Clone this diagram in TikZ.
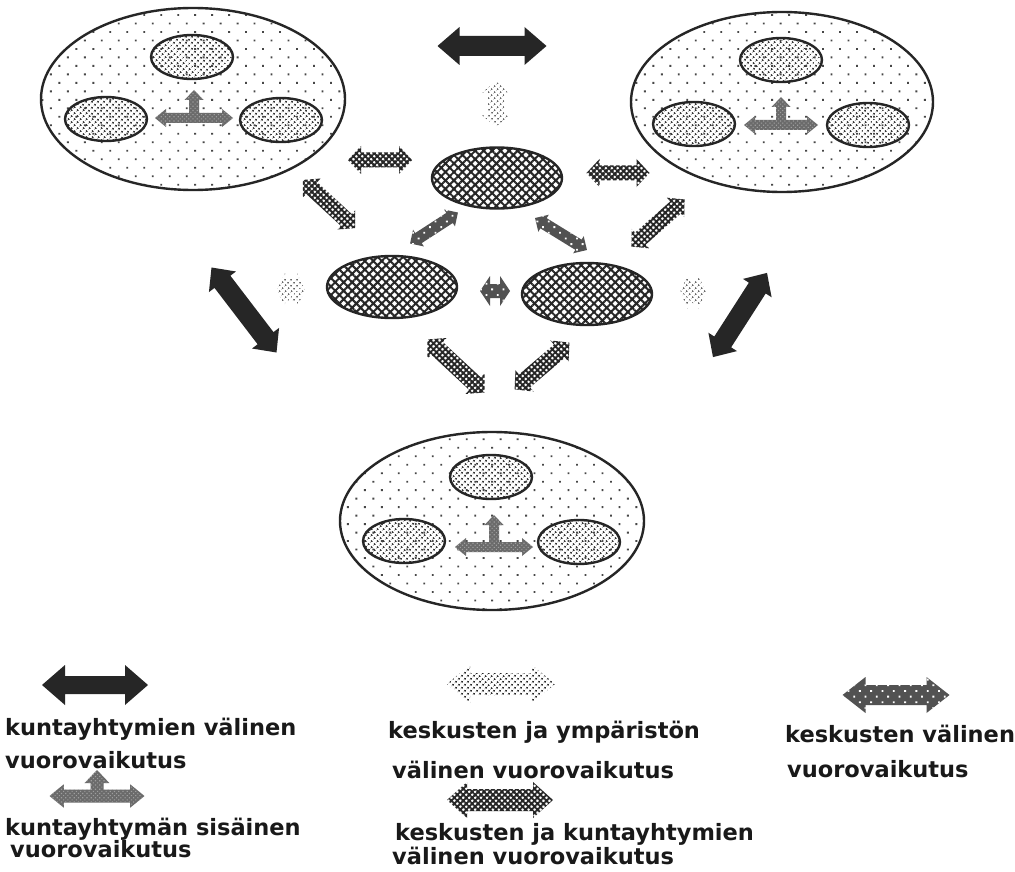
\documentclass[tikz,border=0pt]{standalone}
\usepackage{fontspec}
\setmainfont{DejaVu Sans}
\usetikzlibrary{shapes.geometric,patterns.meta}
\tikzset{
  outerfill/.style={ellipse, draw=black!85, line width=2.4pt, inner sep=0pt,
    pattern={Dots[radius=1.3pt,distance=12pt,angle=45]}, pattern color=black!72},
  innerfill/.style={ellipse, draw=black!85, line width=2.4pt, inner sep=0pt,
    minimum width=82pt, minimum height=44pt,
    pattern={Dots[radius=1.25pt,distance=4pt,angle=45]}, pattern color=black!80},
  centerfill/.style={ellipse, draw=black!85, line width=2.4pt, inner sep=0pt,
    minimum width=130pt, minimum height=61pt,
    pattern={Hatch[angle=45,distance=6pt,line width=2pt]}, pattern color=black!85},
  blk/.style={fill=black!85},
  dotarr/.style={pattern={Dots[radius=1.2pt,distance=4pt,angle=45]}, pattern color=black!85},
  lightdot/.style={pattern={Dots[radius=1.1pt,distance=4pt,angle=45]}, pattern color=black!60},
  hatcharr/.style={pattern={Hatch[angle=45,distance=4.2pt,line width=1.9pt]}, pattern color=black!85},
  midarr/.style={preaction={fill=black!68}, pattern={Dots[radius=1.3pt,distance=8pt,angle=45]}, pattern color=white},
  tarr/.style={preaction={fill=black!58}, pattern={Dots[radius=0.8pt,distance=3pt,angle=45]}, pattern color=black!38},
  lbl/.style={font=\fontsize{22.5}{26}\selectfont\bfseries, anchor=base west, inner sep=0pt, text=black!90},
  pics/dbl/.style n args={5}{code={
    \path[#5] ({-#1/2},0) -- ({-#1/2+#4},{-#3}) -- ({-#1/2+#4},{-#2}) -- ({#1/2-#4},{-#2})
      -- ({#1/2-#4},{-#3}) -- ({#1/2},0) -- ({#1/2-#4},{#3}) -- ({#1/2-#4},{#2})
      -- ({-#1/2+#4},{#2}) -- ({-#1/2+#4},{#3}) -- cycle;
  }},
  pics/tee/.style n args={3}{code={
    \path[tarr] ({-#1/2},0) -- ({-#1/2+11*#3},{-9*#3}) -- ({-#1/2+11*#3},{-5*#3})
      -- ({-5*#3},{-5*#3}) -- ({-5*#3},{-#2+10*#3}) -- ({-9.5*#3},{-#2+10*#3})
      -- (0,{-#2}) -- ({9.5*#3},{-#2+10*#3}) -- ({5*#3},{-#2+10*#3}) -- ({5*#3},{-5*#3})
      -- ({#1/2-11*#3},{-5*#3}) -- ({#1/2-11*#3},{-9*#3}) -- ({#1/2},0)
      -- ({#1/2-11*#3},{9*#3}) -- ({#1/2-11*#3},{5*#3}) -- ({-#1/2+11*#3},{5*#3})
      -- ({-#1/2+11*#3},{9*#3}) -- cycle;
  }}
}
\begin{document}
\begin{tikzpicture}[x=1pt,y=-1pt]
\useasboundingbox[fill=white] (0,0) rectangle (1015,872);

% big ellipses (kuntayhtymät)
\node[outerfill, minimum width=304pt, minimum height=182pt] (TL) at (193,99) {};
\node[outerfill, minimum width=302pt, minimum height=180pt] (TR) at (782,102) {};
\node[outerfill, minimum width=304pt, minimum height=178pt] (BB) at (492,521) {};

% inner ellipses
\node[innerfill] (TLa) at (192,57) {};
\node[innerfill] (TLb) at (106,119) {};
\node[innerfill] (TLc) at (281,120) {};
\node[innerfill] (TRa) at (781,60) {};
\node[innerfill] (TRb) at (694,124) {};
\node[innerfill] (TRc) at (868,125) {};
\node[innerfill] (BBa) at (491,477) {};
\node[innerfill] (BBb) at (404,541) {};
\node[innerfill] (BBc) at (579,542) {};

% T arrows inside
\pic (tTL) at (194,118) {tee={78}{28}{1}};
\pic (tTR) at (781,125) {tee={74}{28}{1}};
\pic (tBB) at (494,547) {tee={78}{32}{1}};

% centre ellipses
\node[centerfill] (C1) at (497,178) {};
\node[centerfill, minimum height=62pt] (C2) at (392,287) {};
\node[centerfill, minimum height=62pt] (C3) at (587,294) {};

% black arrows between kuntayhtymät
\pic (b1) at (492,46) {dbl={109}{10}{19}{22}{blk}};
\pic[rotate=-52.6] (b2) at (244,310) {dbl={107}{10}{17}{18}{blk}};
\pic[rotate=57.3] (b3) at (740,315) {dbl={100}{10}{17}{18}{blk}};

% light dotted arrows (keskusten ja ympäristön)
\pic[rotate=90] (d1) at (496,104) {dbl={45}{8}{14}{11}{lightdot}};
\pic (d2) at (291,290) {dbl={28}{11}{17}{8}{lightdot}};
\pic (d3) at (693,292) {dbl={26}{11}{17}{8}{lightdot}};

% hatched arrows (keskusten ja kuntayhtymien)
\pic (h1) at (380,160) {dbl={64}{7.5}{14}{13}{hatcharr}};
\pic (h2) at (618,173) {dbl={63}{7.5}{14}{13}{hatcharr}};
\pic[rotate=-42.7] (h3) at (329,204) {dbl={71}{8}{13}{12}{hatcharr}};
\pic[rotate=41.6] (h4) at (658,223) {dbl={71}{8}{13}{12}{hatcharr}};
\pic[rotate=-42.9] (h5) at (456,366) {dbl={78}{8.5}{14}{13}{hatcharr}};
\pic[rotate=40.5] (h6) at (542,366) {dbl={72}{8.5}{14}{13}{hatcharr}};

% keskusten väliset
\pic[rotate=32.9] (m1) at (434,228) {dbl={57}{6}{10}{10}{midarr}};
\pic[rotate=-31.6] (m2) at (561,234) {dbl={61}{6}{10}{10}{midarr}};
\pic (m3) at (495,291) {dbl={30}{7}{15}{10}{midarr}};

% legend
\pic (lg1) at (95,685) {dbl={106}{9}{20}{23}{blk}};
\pic (lg2) at (97,796) {tee={95}{26}{1.3}};
\pic (lg3) at (501,684) {dbl={108}{11}{19}{23}{dotarr}};
\pic (lg4) at (500,800) {dbl={106}{11}{18}{20}{hatcharr}};
\pic (lg5) at (896,695) {dbl={107}{10}{18}{23}{midarr}};

\node[lbl] (t1) at (5,735) {kuntayhtymien välinen};
\node[lbl] (t2) at (5,768) {vuorovaikutus};
\node[lbl] (t3) at (5,835) {kuntayhtymän sisäinen};
\node[lbl] (t4) at (10,857) {vuorovaikutus};
\node[lbl] (t5) at (388,738) {keskusten ja ympäristön};
\node[lbl] (t6) at (392,778) {välinen vuorovaikutus};
\node[lbl] (t7) at (395,840) {keskusten ja kuntayhtymien};
\node[lbl] (t8) at (392,864) {välinen vuorovaikutus};
\node[lbl] (t9) at (785,742) {keskusten välinen};
\node[lbl] (t10) at (787,777) {vuorovaikutus};
\end{tikzpicture}
\end{document}
